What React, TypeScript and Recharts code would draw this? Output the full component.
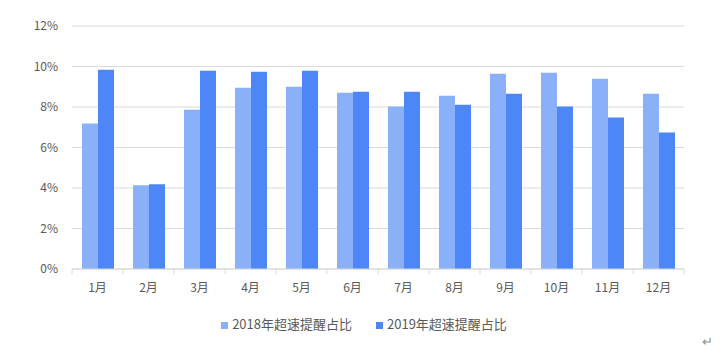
import { BarChart, Bar, XAxis, YAxis, CartesianGrid, Legend } from 'recharts';

const months = ['1月', '2月', '3月', '4月', '5月', '6月', '7月', '8月', '9月', '10月', '11月', '12月'];
const share2018 = [7.18, 4.13, 7.87, 8.95, 9.0, 8.7, 8.02, 8.56, 9.64, 9.69, 9.39, 8.66];
const share2019 = [9.84, 4.18, 9.79, 9.74, 9.79, 8.75, 8.75, 8.11, 8.66, 8.02, 7.48, 6.74];
const yTicks = [0, 2, 4, 6, 8, 10, 12];

const data = months.map((month, i) => ({
  month,
  y2018: share2018[i],
  y2019: share2019[i],
}));

const textColor = '#595959';
const gridColor = '#d9d9d9';
const fontFamily = '"Noto Sans CJK SC", "Noto Sans", sans-serif';

// x labels plus the small tick marks that sit on the category boundaries
function MonthTick(props: any) {
  const { x, y, payload, index } = props;
  const band = 612 / months.length;
  const left = x - band / 2;
  return (
    <g>
      <line x1={left} y1={y - 8} x2={left} y2={y - 3} stroke={gridColor} />
      {index === months.length - 1 && (
        <line x1={left + band} y1={y - 8} x2={left + band} y2={y - 3} stroke={gridColor} />
      )}
      <text x={x} y={y + 15} textAnchor="middle" fill={textColor} fontSize={12} fontFamily={fontFamily}>
        {payload.value}
      </text>
    </g>
  );
}

export default function App() {
  return (
    <div style={{ position: 'absolute', left: 0, top: 0, width: 728, height: 354, background: '#fff' }}>
      <BarChart
        width={728}
        height={354}
        data={data}
        margin={{ top: 26, right: 44, left: 0, bottom: 38 }}
        barCategoryGap={10}
        barGap={0}
      >
        <CartesianGrid vertical={false} stroke={gridColor} />
        <XAxis
          dataKey="month"
          tickLine={false}
          axisLine={{ stroke: gridColor }}
          tick={<MonthTick />}
          interval={0}
          height={28}
        />
        <YAxis
          width={72}
          domain={[0, 12]}
          ticks={yTicks}
          tickFormatter={(v: number) => `${v}%`}
          tickLine={false}
          axisLine={false}
          tickMargin={8}
          tick={{ fill: textColor, fontSize: 12, fontFamily }}
        />
        <Legend
          verticalAlign="bottom"
          iconType="square"
          iconSize={7}
          wrapperStyle={{ fontFamily, fontSize: 13, bottom: 21, left: 0, width: 752 }}
          formatter={(value: string) => (
            <span style={{ color: textColor, marginRight: 14 }}>{value}</span>
          )}
        />
        <Bar dataKey="y2018" name="2018年超速提醒占比" fill="#8ab0f9" isAnimationActive={false} />
        <Bar dataKey="y2019" name="2019年超速提醒占比" fill="#4d87f7" isAnimationActive={false} />
      </BarChart>
      <span
        style={{
          position: 'absolute',
          left: 702,
          top: 331,
          color: '#8c8c8c',
          fontSize: 13,
          fontFamily,
        }}
      >
        ↵
      </span>
    </div>
  );
}
